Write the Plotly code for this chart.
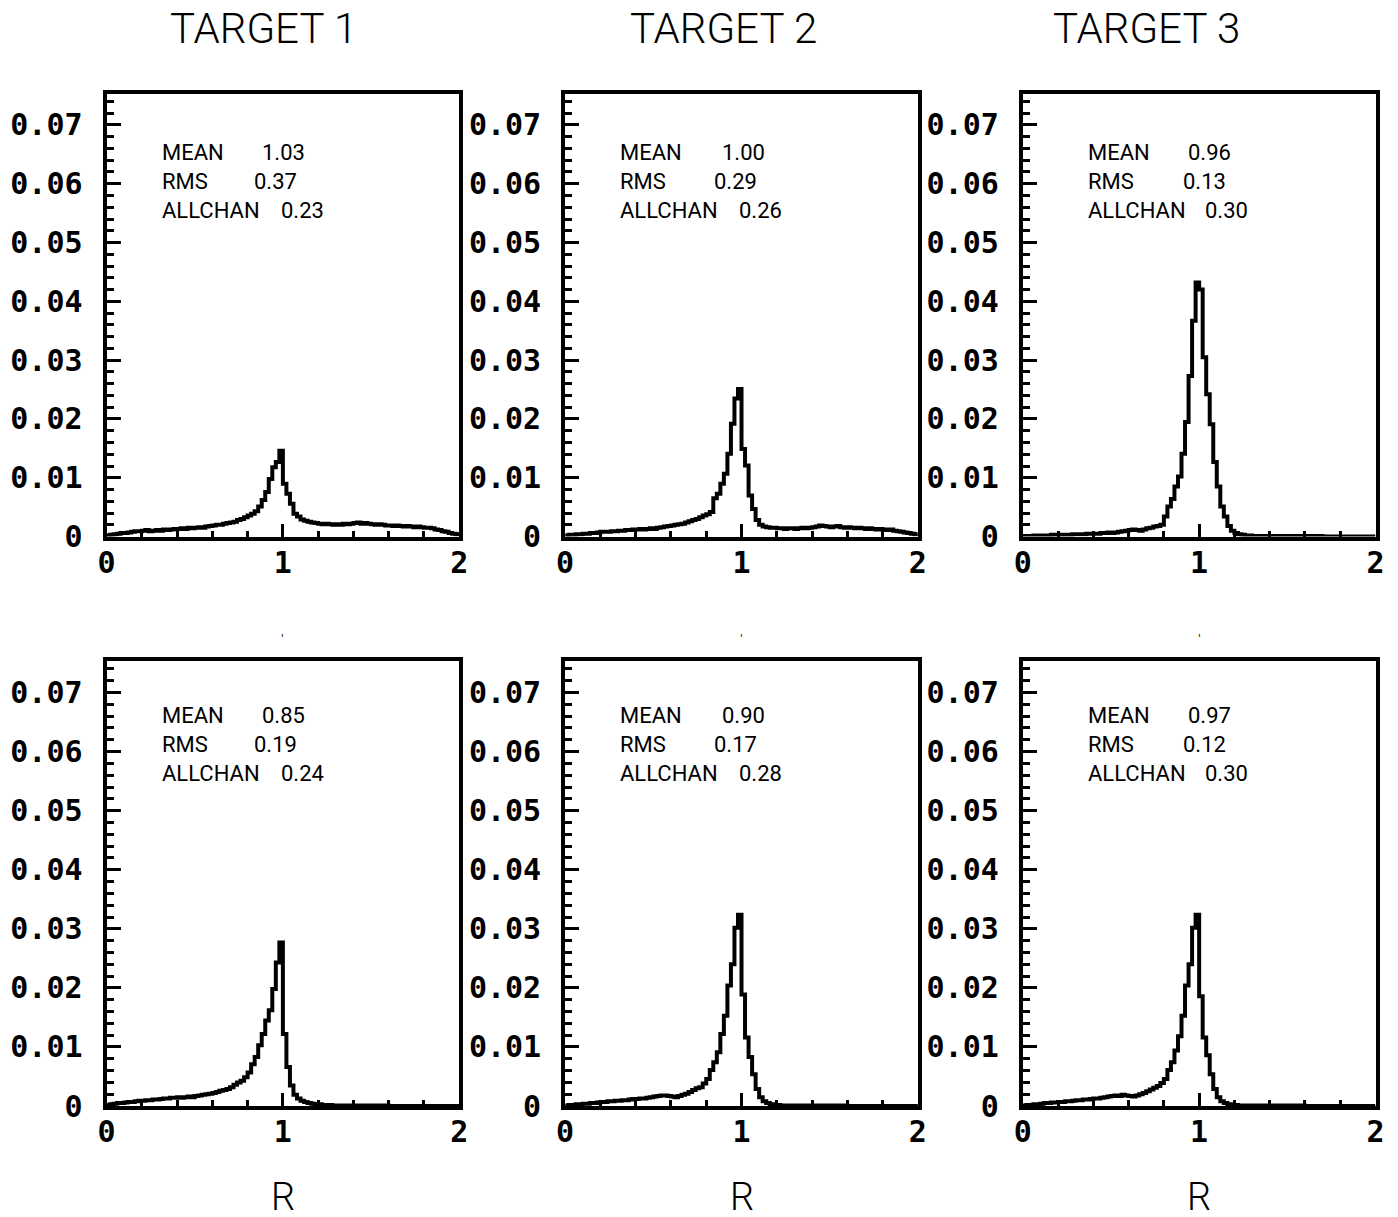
import plotly.graph_objects as go

# Target picture size, and the page->picture mapping observed for this viewer
# (the captured page is shrunk by ~1.2 % and centred horizontally).
PIC_W, PIC_H = 1398, 1217
VIEW_SCALE = 0.988
VIEW_OFFX = 8.4
FIG_W, FIG_H = 1407, 1232

# ---------------- data ----------------
TITLES = ["TARGET 1", "TARGET 2", "TARGET 3"]
X_TITLE = "R"
X_TICKS = [0, 1, 2]
X_TICK_LABELS = ["0", "1", "2"]
Y_TICKS = [0, 0.01, 0.02, 0.03, 0.04, 0.05, 0.06, 0.07]
Y_TICK_LABELS = ["0", "0.01", "0.02", "0.03", "0.04", "0.05", "0.06", "0.07"]

# bin edges of the histograms (100 bins of width 0.02 on [0, 2])
BIN_EDGES = [round(i * 0.02, 2) for i in range(101)]

STAT_NAMES = ["MEAN", "RMS", "ALLCHAN"]
MEAN_VALUES = ["1.03", "1.00", "0.96", "0.85", "0.90", "0.97"]
RMS_VALUES = ["0.37", "0.29", "0.13", "0.19", "0.17", "0.12"]
ALLCHAN_VALUES = ["0.23", "0.26", "0.30", "0.24", "0.28", "0.30"]

# bin contents, in units of 1e-3
HIST_T1_TOP = [
    0.2, 0.3, 0.4, 0.5, 0.6, 0.6, 0.7, 0.8, 0.9, 0.9,
    1.0, 1.1, 0.9, 1.0, 1.1, 1.0, 1.2, 1.1, 1.2, 1.3,
    1.3, 1.4, 1.3, 1.5, 1.4, 1.5, 1.6, 1.5, 1.7, 1.8,
    1.9, 2.0, 2.0, 2.2, 2.3, 2.4, 2.5, 2.8, 3.0, 3.3,
    3.6, 3.9, 4.3, 5.1, 6.2, 7.6, 9.8, 11.8, 12.7, 14.6,
    9.0, 7.3, 5.6, 3.9, 3.4, 2.9, 2.7, 2.5, 2.4, 2.3,
    2.2, 2.1, 2.2, 2.1, 2.0, 2.1, 2.0, 2.2, 2.1, 2.2,
    2.3, 2.4, 2.2, 2.3, 2.2, 2.1, 2.0, 2.1, 2.0, 1.9,
    1.9, 1.8, 1.9, 1.8, 1.7, 1.8, 1.7, 1.6, 1.7, 1.6,
    1.5, 1.5, 1.4, 1.2, 1.1, 0.9, 0.8, 0.6, 0.5, 0.4,
]
HIST_T2_TOP = [
    0.2, 0.3, 0.3, 0.4, 0.4, 0.5, 0.5, 0.6, 0.6, 0.7,
    0.8, 0.8, 0.8, 0.9, 0.9, 1.0, 1.0, 1.1, 1.1, 1.2,
    1.2, 1.3, 1.2, 1.3, 1.4, 1.3, 1.5, 1.6, 1.7, 1.8,
    1.9, 2.0, 2.1, 2.2, 2.4, 2.6, 2.8, 3.0, 3.3, 3.6,
    3.8, 4.2, 6.5, 7.3, 9.0, 10.7, 14.1, 19.2, 23.5, 25.1,
    14.9, 12.1, 7.0, 4.7, 2.8, 2.0, 1.7, 1.6, 1.5, 1.5,
    1.4, 1.4, 1.3, 1.4, 1.4, 1.3, 1.4, 1.5, 1.4, 1.5,
    1.6, 1.7, 1.9, 1.8, 1.7, 1.6, 1.7, 1.8, 1.6, 1.5,
    1.6, 1.5, 1.4, 1.5, 1.4, 1.3, 1.4, 1.3, 1.2, 1.3,
    1.2, 1.1, 1.2, 1.0, 0.9, 0.8, 0.7, 0.6, 0.5, 0.4,
]
HIST_T3_TOP = [
    0.1, 0.1, 0.1, 0.2, 0.2, 0.2, 0.2, 0.2, 0.3, 0.3,
    0.3, 0.3, 0.3, 0.3, 0.4, 0.4, 0.4, 0.4, 0.5, 0.5,
    0.5, 0.5, 0.6, 0.6, 0.7, 0.6, 0.7, 0.8, 0.9, 1.0,
    1.1, 1.2, 1.1, 1.0, 1.2, 1.4, 1.5, 1.7, 1.8, 2.0,
    3.4, 5.1, 6.4, 8.5, 10.2, 14.1, 19.5, 27.3, 36.7, 43.2,
    42.0, 30.5, 24.2, 19.1, 12.7, 8.5, 5.1, 3.4, 1.8, 1.0,
    0.6, 0.4, 0.3, 0.2, 0.2, 0.1, 0.1, 0.1, 0.1, 0.1,
    0.1, 0.1, 0.1, 0.1, 0.1, 0.1, 0.1, 0.1, 0.1, 0.1,
    0.1, 0.1, 0.1, 0.1, 0.1, 0.0, 0.0, 0.0, 0.0, 0.0,
    0.0, 0.0, 0.0, 0.0, 0.0, 0.0, 0.0, 0.0, 0.0, 0.0,
]
HIST_T1_BOT = [
    0.2, 0.3, 0.4, 0.5, 0.5, 0.6, 0.7, 0.7, 0.8, 0.9,
    0.9, 1.0, 1.0, 1.1, 1.1, 1.2, 1.3, 1.3, 1.4, 1.4,
    1.5, 1.4, 1.5, 1.6, 1.5, 1.7, 1.8, 1.9, 2.0, 2.1,
    2.2, 2.4, 2.6, 2.7, 2.9, 3.2, 3.6, 4.0, 4.3, 4.9,
    5.7, 7.1, 8.3, 10.3, 12.2, 14.5, 16.2, 19.8, 24.3, 27.7,
    12.2, 6.6, 3.5, 1.9, 1.3, 0.9, 0.7, 0.5, 0.4, 0.3,
    0.3, 0.2, 0.2, 0.2, 0.1, 0.1, 0.1, 0.1, 0.1, 0.1,
    0.1, 0.1, 0.1, 0.1, 0.1, 0.1, 0.1, 0.1, 0.1, 0.1,
    0.0, 0.0, 0.0, 0.0, 0.0, 0.0, 0.0, 0.0, 0.0, 0.0,
    0.0, 0.0, 0.0, 0.0, 0.0, 0.0, 0.0, 0.0, 0.0, 0.0,
]
HIST_T2_BOT = [
    0.1, 0.2, 0.2, 0.3, 0.3, 0.4, 0.4, 0.5, 0.5, 0.6,
    0.7, 0.7, 0.8, 0.8, 0.9, 0.9, 1.0, 1.0, 1.1, 1.2,
    1.2, 1.3, 1.3, 1.4, 1.5, 1.6, 1.7, 1.8, 1.8, 1.7,
    1.6, 1.5, 1.7, 1.9, 2.1, 2.4, 2.7, 3.0, 3.2, 3.8,
    4.6, 6.1, 7.4, 9.1, 12.2, 15.3, 20.4, 24.0, 30.2, 32.4,
    18.9, 11.6, 8.3, 5.4, 2.9, 1.5, 0.8, 0.5, 0.3, 0.2,
    0.2, 0.1, 0.1, 0.1, 0.1, 0.1, 0.1, 0.1, 0.1, 0.1,
    0.1, 0.1, 0.1, 0.1, 0.1, 0.1, 0.1, 0.1, 0.1, 0.1,
    0.0, 0.0, 0.0, 0.0, 0.0, 0.0, 0.0, 0.0, 0.0, 0.0,
    0.0, 0.0, 0.0, 0.0, 0.0, 0.0, 0.0, 0.0, 0.0, 0.0,
]
HIST_T3_BOT = [
    0.1, 0.2, 0.2, 0.3, 0.3, 0.4, 0.5, 0.5, 0.6, 0.6,
    0.7, 0.7, 0.8, 0.8, 0.9, 1.0, 1.0, 1.1, 1.1, 1.2,
    1.3, 1.3, 1.4, 1.5, 1.6, 1.7, 1.8, 1.7, 1.9, 1.8,
    1.7, 1.6, 1.8, 2.0, 2.2, 2.5, 2.8, 3.1, 3.4, 3.9,
    4.6, 6.1, 7.4, 9.4, 11.8, 15.3, 20.4, 24.0, 30.2, 32.4,
    18.6, 11.6, 8.6, 5.4, 2.9, 1.5, 0.8, 0.5, 0.3, 0.2,
    0.2, 0.1, 0.1, 0.1, 0.1, 0.1, 0.1, 0.1, 0.1, 0.1,
    0.1, 0.1, 0.1, 0.1, 0.1, 0.1, 0.1, 0.1, 0.1, 0.1,
    0.0, 0.0, 0.0, 0.0, 0.0, 0.0, 0.0, 0.0, 0.0, 0.0,
    0.0, 0.0, 0.0, 0.0, 0.0, 0.0, 0.0, 0.0, 0.0, 0.0,
]
HISTS = [HIST_T1_TOP, HIST_T2_TOP, HIST_T3_TOP, HIST_T1_BOT, HIST_T2_BOT, HIST_T3_BOT]

# ---------------- layout (target picture pixels) ----------------
COL_LEFT = [106, 565, 1023]
COL_WIDTH = 353
ROW_TOP = [94, 663]
ROW_BOTTOM = [538, 1109]
Y_MAX = 0.0753

STAT_LABEL_OFF = [54, 53, 63]
STAT_VALUE_OFF = [[154, 146, 173], [155, 147, 172], [163, 158, 180]]
STAT_Y = [[153, 182, 211], [717, 746, 776]]
TITLE_X = [263, 723, 1147]
TITLE_Y = 29
RTITLE_Y = 1200
MARK_Y = 640

TICK_FONT = dict(family="DejaVu Sans Mono, Liberation Mono, monospace", size=30, color="black", weight="bold")
THIN_FONT = "Roboto, DejaVu Sans Condensed, Liberation Sans, sans-serif"
THIN_WEIGHT = 300
STAT_WEIGHT = 400


def px(xp):
    return ((xp - VIEW_OFFX) / VIEW_SCALE) / FIG_W


def py(yp):
    return 1 - (yp / VIEW_SCALE) / FIG_H


fig = go.Figure()
layout = dict(
    width=FIG_W, height=FIG_H,
    margin=dict(l=0, r=0, t=0, b=0),
    paper_bgcolor="white", plot_bgcolor="white",
    showlegend=False,
)
annotations = []

for k in range(6):
    row, col = divmod(k, 3)
    n = k + 1
    sfx = "" if n == 1 else str(n)
    vals = [v / 1000.0 for v in HISTS[k]]
    fig.add_trace(go.Scatter(
        x=BIN_EDGES, y=vals + [vals[-1]],
        mode="lines", line=dict(shape="hv", color="black", width=4),
        xaxis="x" + sfx, yaxis="y" + sfx, hoverinfo="skip",
    ))
    left = COL_LEFT[col]
    layout["xaxis" + sfx] = dict(
        domain=[px(left), px(left + COL_WIDTH)], range=[0, 2], anchor="y" + sfx,
        showgrid=False, zeroline=False, showline=True, linewidth=4, linecolor="black", mirror=True,
        ticks="inside", ticklen=13, tickwidth=3, tickcolor="black",
        tickmode="array", tickvals=X_TICKS, ticktext=X_TICK_LABELS, tickfont=TICK_FONT,
        ticklabelstandoff=-4,
        minor=dict(ticks="inside", ticklen=6, tickwidth=3, tickcolor="black",
                   tickmode="linear", tick0=0, dtick=0.2, showgrid=False),
        fixedrange=True,
    )
    layout["yaxis" + sfx] = dict(
        domain=[py(ROW_BOTTOM[row]), py(ROW_TOP[row])], range=[0, Y_MAX], anchor="x" + sfx,
        showgrid=False, zeroline=False, showline=True, linewidth=4, linecolor="black", mirror=True,
        ticks="inside", ticklen=14, tickwidth=3, tickcolor="black",
        tickmode="array", tickvals=Y_TICKS, ticktext=Y_TICK_LABELS, tickfont=TICK_FONT,
        ticklabelstandoff=14,
        minor=dict(ticks="inside", ticklen=7, tickwidth=3, tickcolor="black",
                   tickmode="linear", tick0=0, dtick=0.002, showgrid=False),
        fixedrange=True,
    )
    stat_vals = [MEAN_VALUES[k], RMS_VALUES[k], ALLCHAN_VALUES[k]]
    for j in range(3):
        annotations.append(dict(
            x=px(left + STAT_LABEL_OFF[col]), y=py(STAT_Y[row][j]), xref="paper", yref="paper",
            text=STAT_NAMES[j], showarrow=False, xanchor="left", yanchor="middle",
            font=dict(family=THIN_FONT, size=22, color="black", weight=STAT_WEIGHT),
        ))
        annotations.append(dict(
            x=px(left + STAT_VALUE_OFF[col][j]), y=py(STAT_Y[row][j]), xref="paper", yref="paper",
            text=stat_vals[j], showarrow=False, xanchor="left", yanchor="middle",
            font=dict(family=THIN_FONT, size=22, color="black", weight=STAT_WEIGHT),
        ))

for col in range(3):
    annotations.append(dict(
        x=px(TITLE_X[col]), y=py(TITLE_Y), xref="paper", yref="paper", text=TITLES[col],
        showarrow=False, xanchor="center", yanchor="middle",
        font=dict(family=THIN_FONT, size=42, color="black", weight=THIN_WEIGHT),
    ))
    cx = COL_LEFT[col] + COL_WIDTH / 2
    annotations.append(dict(
        x=px(cx), y=py(RTITLE_Y), xref="paper", yref="paper", text=X_TITLE,
        showarrow=False, xanchor="center", yanchor="middle",
        font=dict(family=THIN_FONT, size=38, color="black", weight=THIN_WEIGHT),
    ))
    annotations.append(dict(
        x=px(cx), y=py(MARK_Y), xref="paper", yref="paper", text="'",
        showarrow=False, xanchor="center", yanchor="middle",
        font=dict(family="DejaVu Sans", size=10, color="black"),
    ))

layout["annotations"] = annotations
fig.update_layout(**layout)
fig.write_html(
    "out.html",
    config={"displayModeBar": False},
    post_script="document.body.style.margin='0';document.body.style.overflow='hidden';",
)
